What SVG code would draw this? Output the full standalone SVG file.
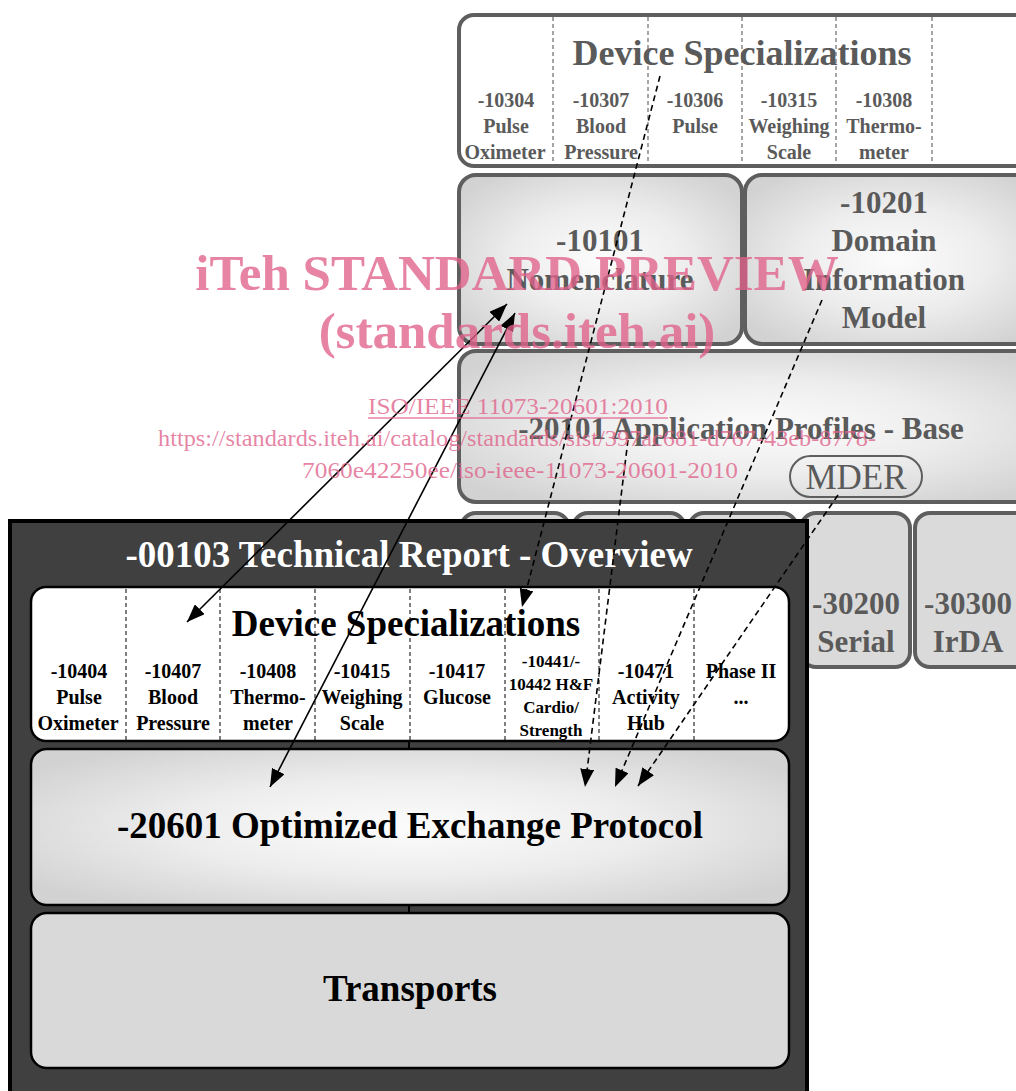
<svg xmlns="http://www.w3.org/2000/svg" width="1016" height="1091" viewBox="0 0 1016 1091">
<style>
text{font-family:"Liberation Serif","Times New Roman",serif;font-weight:bold;text-anchor:middle}
text.n{font-weight:normal}
.g{fill:#5a5a5a}
.k{fill:#000}
.w{fill:#fff}
.bk{stroke:#5e5e5e;stroke-width:4}
.fr{stroke:#000;stroke-width:2.5}
.dv{stroke:#6a6a6a;stroke-width:1.2;stroke-dasharray:4 3}
.dk{stroke:#000;stroke-width:1;stroke-dasharray:4 3}
.c20{font-size:20px}
.t31{font-size:31px}
.t37{font-size:37px}
.wm{fill:#e0628b;fill-opacity:0.78}
.sol{stroke:#000;stroke-width:1.6;fill:none}
.dsh{stroke:#000;stroke-width:1.6;fill:none;stroke-dasharray:6 4}
</style>
<defs>
<radialGradient id="rg" cx="50%" cy="50%" r="62%">
<stop offset="0" stop-color="#fcfcfc"/>
<stop offset="0.5" stop-color="#ededed"/>
<stop offset="1" stop-color="#d2d2d2"/>
</radialGradient>
<marker id="ah" viewBox="0 0 18 14" refX="18" refY="7" markerWidth="18" markerHeight="14" markerUnits="userSpaceOnUse" orient="auto-start-reverse">
<path d="M0,0 L18,7 L0,14 Z" fill="#000"/>
</marker>
</defs>
<rect width="1016" height="1091" fill="#fff"/>

<!-- back layer -->
<g id="dev-spec-back">
<rect class="bk" x="459" y="15" width="600" height="151" rx="15" fill="#fff" stroke-width="3"/>
<line class="dv" x1="553" y1="17" x2="553" y2="164"/>
<line class="dv" x1="648" y1="17" x2="648" y2="164"/>
<line class="dv" x1="742" y1="17" x2="742" y2="164"/>
<line class="dv" x1="836" y1="17" x2="836" y2="164"/>
<line class="dv" x1="932" y1="17" x2="932" y2="164"/>
<text class="g" x="742" y="65" font-size="36">Device Specializations</text>
<text class="g c20"><tspan x="506" y="107">-10304</tspan><tspan x="506" y="133">Pulse</tspan><tspan x="505" y="159">Oximeter</tspan></text>
<text class="g c20"><tspan x="601" y="107">-10307</tspan><tspan x="601" y="133">Blood</tspan><tspan x="601" y="159">Pressure</tspan></text>
<text class="g c20"><tspan x="695" y="107">-10306</tspan><tspan x="695" y="133">Pulse</tspan></text>
<text class="g c20"><tspan x="789" y="107">-10315</tspan><tspan x="789" y="133">Weighing</tspan><tspan x="789" y="159">Scale</tspan></text>
<text class="g c20"><tspan x="884" y="107">-10308</tspan><tspan x="884" y="133">Thermo-</tspan><tspan x="884" y="159">meter</tspan></text>
</g>
<g id="n10101">
<rect class="bk" x="459" y="175" width="283" height="169" rx="17" fill="url(#rg)"/>
<text class="g t31"><tspan x="600" y="251">-10101</tspan><tspan x="600" y="290">Nomenclature</tspan></text>
</g>
<g id="n10201">
<rect class="bk" x="745" y="175" width="300" height="169" rx="17" fill="url(#rg)"/>
<text class="g t31"><tspan x="884" y="213">-10201</tspan><tspan x="884" y="251">Domain</tspan><tspan x="884" y="290">Information</tspan><tspan x="884" y="328">Model</tspan></text>
</g>
<g id="n20101">
<rect class="bk" x="459" y="351" width="600" height="151" rx="17" fill="url(#rg)"/>
<text class="g t31" x="741" y="439">-20101 Application Profiles - Base</text>
<rect x="790" y="456" width="132" height="41" rx="20.5" fill="none" stroke="#5e5e5e" stroke-width="2"/>
<text class="n" x="856" y="489" font-size="35" fill="#5a5a5a">MDER</text>
</g>
<g id="transports-back">
<rect class="bk" x="461" y="513" width="108" height="154" rx="15" fill="#dadada"/>
<rect class="bk" x="573" y="513" width="112" height="154" rx="15" fill="#dadada"/>
<rect class="bk" x="689" y="513" width="108" height="154" rx="15" fill="#dadada"/>
<rect class="bk" x="801" y="513" width="109" height="154" rx="15" fill="#dadada"/>
<rect class="bk" x="915" y="513" width="130" height="154" rx="15" fill="#dadada"/>
<text class="g t31"><tspan x="856" y="614">-30200</tspan><tspan x="856" y="652">Serial</tspan></text>
<text class="g t31"><tspan x="968" y="614">-30300</tspan><tspan x="968" y="652">IrDA</tspan></text>
</g>

<!-- overview -->
<g id="overview">
<rect x="10" y="521" width="797" height="600" fill="#404040" stroke="#000" stroke-width="4"/>
<text class="w t37" x="409" y="567">-00103 Technical Report - Overview</text>
<line x1="409" y1="740" x2="409" y2="751" stroke="#000" stroke-width="2"/>
<line x1="409" y1="903" x2="409" y2="915" stroke="#000" stroke-width="2"/>
</g>
<g id="dev-spec">
<rect class="fr" x="31" y="587" width="758" height="154" rx="15" fill="#fff"/>
<line class="dk" x1="126" y1="589" x2="126" y2="740"/>
<line class="dk" x1="220" y1="589" x2="220" y2="740"/>
<line class="dk" x1="315" y1="589" x2="315" y2="740"/>
<line class="dk" x1="410" y1="589" x2="410" y2="740"/>
<line class="dk" x1="505" y1="589" x2="505" y2="740"/>
<line class="dk" x1="599" y1="589" x2="599" y2="740"/>
<line class="dk" x1="694" y1="589" x2="694" y2="740"/>
<text class="k t37" x="406" y="636">Device Specializations</text>
<text class="k c20"><tspan x="79" y="678">-10404</tspan><tspan x="79" y="704">Pulse</tspan><tspan x="78" y="730">Oximeter</tspan></text>
<text class="k c20"><tspan x="173" y="678">-10407</tspan><tspan x="173" y="704">Blood</tspan><tspan x="173" y="730">Pressure</tspan></text>
<text class="k c20"><tspan x="268" y="678">-10408</tspan><tspan x="268" y="704">Thermo-</tspan><tspan x="268" y="730">meter</tspan></text>
<text class="k c20"><tspan x="362" y="678">-10415</tspan><tspan x="362" y="704">Weighing</tspan><tspan x="362" y="730">Scale</tspan></text>
<text class="k c20"><tspan x="457" y="678">-10417</tspan><tspan x="457" y="704">Glucose</tspan></text>
<text class="k" font-size="17"><tspan x="551" y="667">-10441/-</tspan><tspan x="551" y="690">10442 H&amp;F</tspan><tspan x="551" y="713">Cardio/</tspan><tspan x="551" y="736">Strength</tspan></text>
<text class="k c20"><tspan x="646" y="678">-10471</tspan><tspan x="646" y="704">Activity</tspan><tspan x="646" y="730">Hub</tspan></text>
<text class="k c20"><tspan x="741" y="678">Phase II</tspan><tspan x="741" y="704">...</tspan></text>
</g>
<g id="n20601">
<rect class="fr" x="31" y="749" width="758" height="156" rx="16" fill="url(#rg)"/>
<text class="k t37" x="410" y="838">-20601 Optimized Exchange Protocol</text>
</g>
<g id="transports">
<rect class="fr" x="31" y="913" width="758" height="155" rx="16" fill="#d9d9d9"/>
<text class="k t37" x="410" y="1001">Transports</text>
</g>

<!-- connectors -->
<g id="connectors">
<line class="sol" x1="187" y1="622" x2="507" y2="304" marker-start="url(#ah)" marker-end="url(#ah)"/>
<line class="sol" x1="270" y1="787" x2="515" y2="313" marker-start="url(#ah)" marker-end="url(#ah)"/>
<line class="dsh" x1="660" y1="76" x2="522" y2="607" marker-end="url(#ah)"/>
<line class="dsh" x1="628" y1="440" x2="585" y2="787" marker-end="url(#ah)"/>
<line class="dsh" x1="822" y1="300" x2="615" y2="787" marker-end="url(#ah)"/>
<line class="dsh" x1="838" y1="495" x2="638" y2="786" marker-end="url(#ah)"/>
</g>

<!-- watermark -->
<g id="watermark">
<text class="wm" x="517" y="290" font-size="51">iTeh STANDARD PREVIEW</text>
<text class="wm" x="517" y="348" font-size="51">(standards.iteh.ai)</text>
<text class="wm n" x="518" y="414" font-size="24" textLength="300" lengthAdjust="spacingAndGlyphs">ISO/IEEE 11073-20601:2010</text>
<line x1="368" y1="418" x2="668" y2="418" stroke="#e0628b" stroke-opacity="0.78" stroke-width="1.3"/>
<text class="wm n" x="517" y="446" font-size="24" textLength="718" lengthAdjust="spacingAndGlyphs">https://standards.iteh.ai/catalog/standards/sist/397ac681-d767-43eb-8778-</text>
<text class="wm n" x="520" y="478" font-size="24" textLength="436" lengthAdjust="spacingAndGlyphs">7060e42250ee/iso-ieee-11073-20601-2010</text>
</g>
</svg>
